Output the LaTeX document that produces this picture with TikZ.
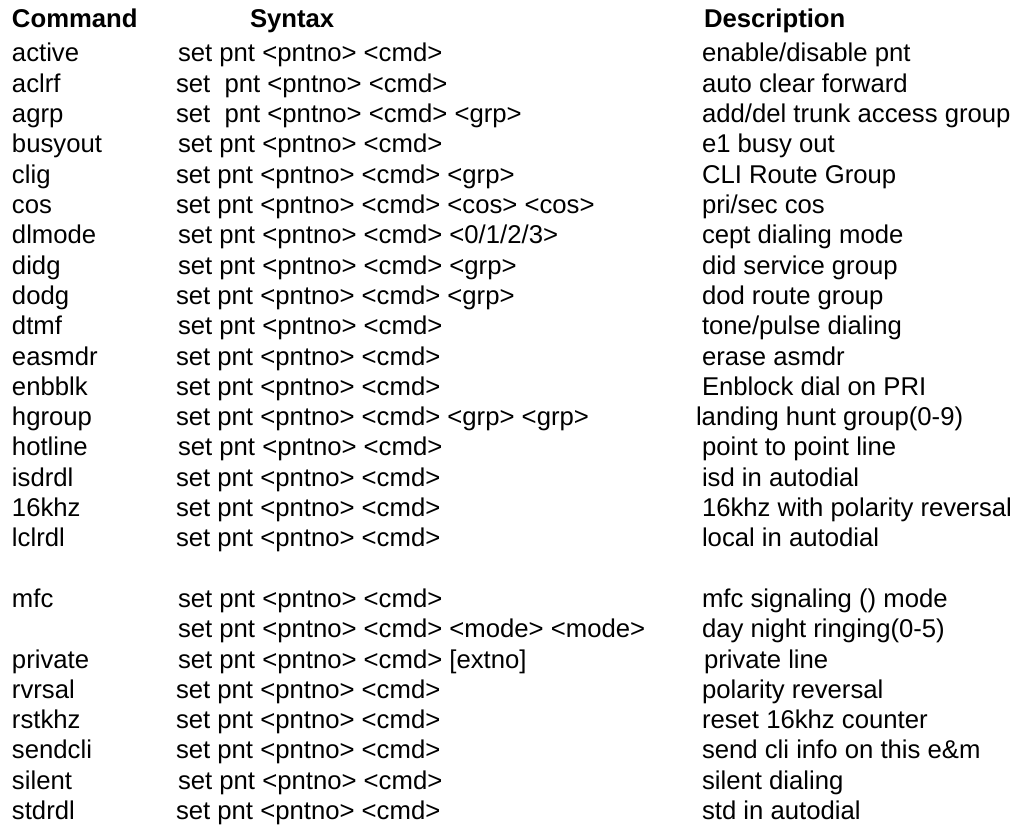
\documentclass[tikz,border=0pt]{standalone}
\usepackage{fontspec}
\setmainfont{Liberation Sans}
\begin{document}
\begin{tikzpicture}[x=1pt,y=-1pt,
  cell/.style={anchor=base west,inner sep=0pt,outer sep=0pt,
    font=\fontsize{25.7}{29}\selectfont},
  head/.style={cell,font=\fontsize{25.7}{29}\selectfont\bfseries}]
\useasboundingbox[fill=white] (0,0) rectangle (1028,834);
% column headers
\node[head] (hcmd) at (12,28) {Command};
\node[head] (hsyn) at (250,28) {Syntax};
\node[head] (hdes) at (704,28) {Description};
% table rows: {row}{command}{syntax x}{syntax}{description x}{description}
\def\pitch{30.3}
\foreach \i/\c/\sx/\s/\dx/\d in {
 1/active/178/{set pnt <pntno> <cmd>}/702/{enable/disable pnt},
 2/aclrf/176/{set\ \ pnt <pntno> <cmd>}/702/{auto clear forward},
 3/agrp/176/{set\ \ pnt <pntno> <cmd> <grp>}/702/{add/del trunk access group},
 4/busyout/178/{set pnt <pntno> <cmd>}/702/{e1 busy out},
 5/clig/176/{set pnt <pntno> <cmd> <grp>}/702/{CLI Route Group},
 6/cos/176/{set pnt <pntno> <cmd> <cos> <cos>}/702/{pri/sec cos},
 7/dlmode/178/{set pnt <pntno> <cmd> <0/1/2/3>}/702/{cept dialing mode},
 8/didg/178/{set pnt <pntno> <cmd> <grp>}/702/{did service group},
 9/dodg/176/{set pnt <pntno> <cmd> <grp>}/702/{dod route group},
 10/dtmf/178/{set pnt <pntno> <cmd>}/702/{tone/pulse dialing},
 11/easmdr/176/{set pnt <pntno> <cmd>}/702/{erase asmdr},
 12/enbblk/176/{set pnt <pntno> <cmd>}/702/{Enblock dial on PRI},
 13/hgroup/176/{set pnt <pntno> <cmd> <grp> <grp>}/696/{landing hunt group(0-9)},
 14/hotline/178/{set pnt <pntno> <cmd>}/702/{point to point line},
 15/isdrdl/176/{set pnt <pntno> <cmd>}/702/{isd in autodial},
 16/16khz/176/{set pnt <pntno> <cmd>}/702/{16khz with polarity reversal},
 17/lclrdl/176/{set pnt <pntno> <cmd>}/702/{local in autodial},
 19/mfc/178/{set pnt <pntno> <cmd>}/702/{mfc signaling () mode},
 20/{}/178/{set pnt <pntno> <cmd> <mode> <mode>}/702/{day night ringing(0-5)},
 21/private/178/{set pnt <pntno> <cmd> [extno]}/704/{private line},
 22/rvrsal/176/{set pnt <pntno> <cmd>}/702/{polarity reversal},
 23/rstkhz/176/{set pnt <pntno> <cmd>}/702/{reset 16khz counter},
 24/sendcli/176/{set pnt <pntno> <cmd>}/702/{send cli info on this e\&m},
 25/silent/178/{set pnt <pntno> <cmd>}/702/{silent dialing},
 26/stdrdl/176/{set pnt <pntno> <cmd>}/702/{std in autodial}}
{
  \pgfmathsetmacro\yy{62+\pitch*(\i-1)}
  \node[cell] (cmd\i) at (12,\yy) {\c};
  \node[cell] (syn\i) at (\sx,\yy) {\s};
  \node[cell] (des\i) at (\dx,\yy) {\d};
}
\end{tikzpicture}
\end{document}
